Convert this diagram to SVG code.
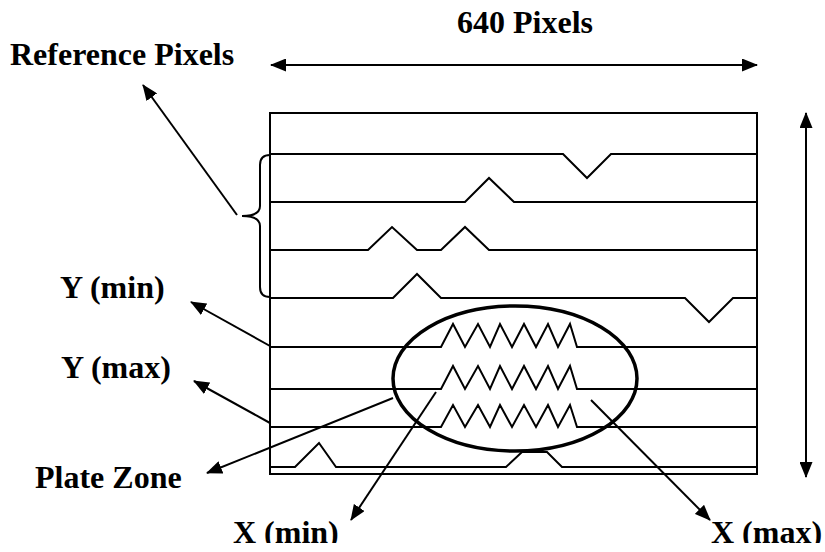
<svg xmlns="http://www.w3.org/2000/svg" width="825" height="552" viewBox="0 0 825 552">
<style>
.ln{fill:none;stroke:#000;stroke-width:2;stroke-linejoin:miter}
.ar{fill:none;stroke:#000;stroke-width:2;marker-end:url(#ah)}
.lbl{font-family:"Liberation Serif","Times New Roman",serif;font-weight:bold;font-size:32px;fill:#000}
</style>
<defs>
<marker id="ah" viewBox="0 0 16 13" refX="15" refY="6.5" markerWidth="16" markerHeight="13" markerUnits="userSpaceOnUse" orient="auto-start-reverse">
<path d="M0,0 L16,6.5 L0,13 z" fill="#000"/>
</marker>
<clipPath id="cut"><rect x="0" y="0" width="825" height="543"/></clipPath>
</defs>
<rect width="825" height="552" fill="#fff"/>
<g id="frame">
<rect class="ln" x="270" y="113" width="487" height="361"/>
<polyline class="ln" points="270,154 563,154 587,178 611,154 757,154"/>
<polyline class="ln" points="270,202 465,202 489,178 514,202 757,202"/>
<polyline class="ln" points="270,250 368,250 392,227 417,250 441,250 465,227 489,250 757,250"/>
<polyline class="ln" points="270,298 393,298 417,274 441,298 685,298 709,322 733,298 757,298"/>
<polyline class="ln" points="270,347 441,347 453,324 465,347 478,324 490,347 500,324 512,347 524,324 536,347 548,324 558,347 570,324 577,347 757,347"/>
<polyline class="ln" points="270,389 441,389 453,366 465,389 478,366 490,389 500,366 512,389 524,366 536,389 548,366 558,389 570,366 577,389 757,389"/>
<polyline class="ln" points="270,427 441,427 453,405 465,427 478,405 490,427 500,405 512,427 524,405 536,427 548,405 558,427 570,405 577,427 757,427"/>
<polyline class="ln" points="270,467 295,467 319,443 336,467 506,467 522,452 547,452 562,467 757,467"/>
</g>
<g id="brace">
<path class="ln" d="M270,155 Q260,155 260,165 L260,206 Q260,216 242,216 Q260,216 260,226 L260,287 Q260,297 270,297"/>
</g>
<g id="plate-zone">
<ellipse cx="515" cy="378.5" rx="122" ry="72.5" fill="none" stroke="#000" stroke-width="3.5"/>
</g>
<g id="connectors">
<line class="ar" x1="271" y1="65" x2="757" y2="65" style="marker-start:url(#ah)"/>
<line class="ar" x1="806" y1="113" x2="806" y2="477" style="marker-start:url(#ah)"/>
<line class="ar" x1="237" y1="215" x2="143" y2="85"/>
<line class="ar" x1="270" y1="346" x2="191" y2="302"/>
<line class="ar" x1="270" y1="423" x2="194" y2="381"/>
<line class="ar" x1="393" y1="398" x2="207" y2="473"/>
<line class="ar" x1="436" y1="392" x2="351" y2="520"/>
<line class="ar" x1="591" y1="400" x2="710" y2="520"/>
</g>
<g id="label-width"><text class="lbl" x="457" y="33">640 Pixels</text></g>
<g id="label-reference"><text class="lbl" x="10" y="65">Reference Pixels</text></g>
<g id="label-ymin"><text class="lbl" x="60" y="298">Y (min)</text></g>
<g id="label-ymax"><text class="lbl" x="61" y="378">Y (max)</text></g>
<g id="label-plate"><text class="lbl" x="35" y="488">Plate Zone</text></g>
<g id="label-xmin" clip-path="url(#cut)"><text class="lbl" x="233" y="543">X (min)</text></g>
<g id="label-xmax" clip-path="url(#cut)"><text class="lbl" x="711" y="543">X (max)</text></g>
</svg>
